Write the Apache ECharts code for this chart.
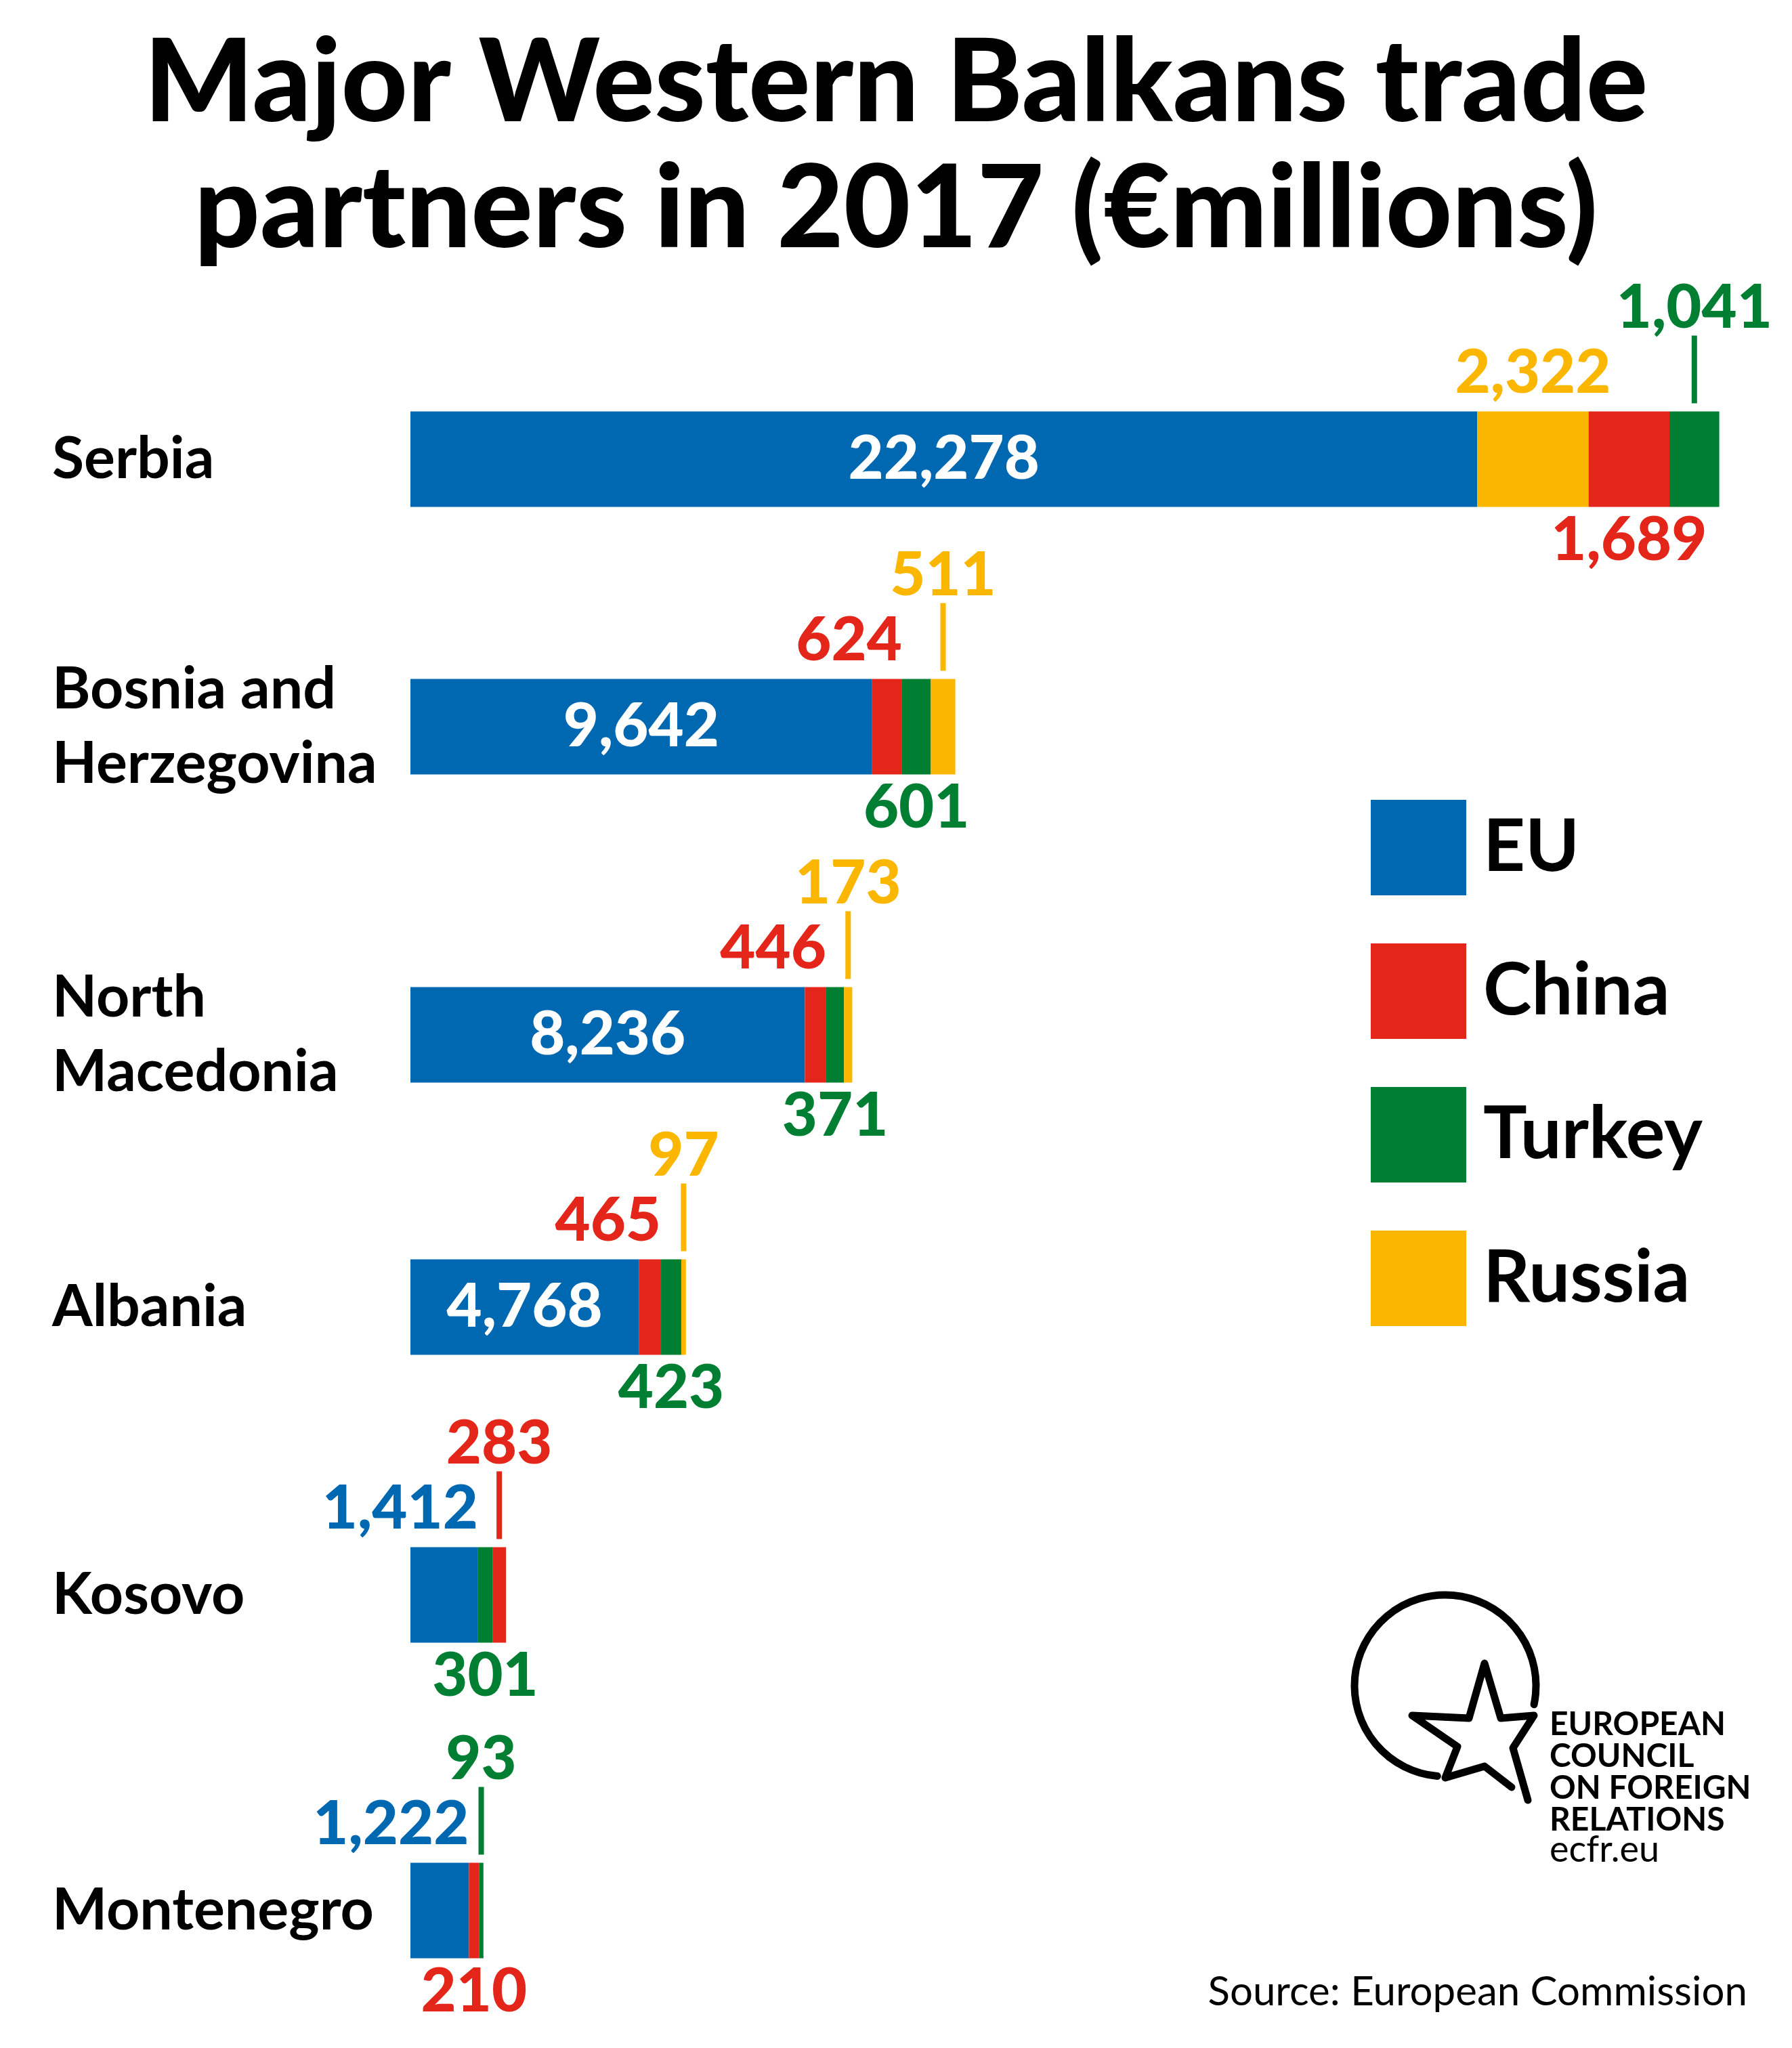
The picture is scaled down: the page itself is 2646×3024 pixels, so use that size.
<!DOCTYPE html>
<html><head><meta charset="utf-8">
<script src="https://cdn.jsdelivr.net/npm/echarts@6/dist/echarts.min.js"></script>
<style>html,body{margin:0;padding:0;background:#fff}#c{width:2646px;height:3024px}</style>
</head><body><div id="c"></div>
<script>
// ---------- data ----------
const countries = ['Serbia', 'Bosnia and\nHerzegovina', 'North\nMacedonia', 'Albania', 'Kosovo', 'Montenegro'];
const partners = ['EU', 'China', 'Turkey', 'Russia'];
const euValues     = [22278, 9642, 8236, 4768, 1412, 1222];
const chinaValues  = [1689, 624, 446, 465, 283, 210];
const turkeyValues = [1041, 601, 371, 423, 301, 93];
const russiaValues = [2322, 511, 173, 97, null, null];
// order of the segments in each bar, left to right
const segmentOrder = [
  ['EU', 'Russia', 'China', 'Turkey'],
  ['EU', 'China', 'Turkey', 'Russia'],
  ['EU', 'China', 'Turkey', 'Russia'],
  ['EU', 'China', 'Turkey', 'Russia'],
  ['EU', 'Turkey', 'China'],
  ['EU', 'China', 'Turkey']
];
// where each value label sits
const labelPlacement = [
  {EU: 'inside', Russia: 'above', China: 'below', Turkey: 'leader'},
  {EU: 'inside', China: 'aboveRight', Turkey: 'below', Russia: 'leader'},
  {EU: 'inside', China: 'aboveRight', Turkey: 'below', Russia: 'leader'},
  {EU: 'inside', China: 'aboveRight', Turkey: 'below', Russia: 'leader'},
  {EU: 'aboveRight', Turkey: 'below', China: 'leader'},
  {EU: 'aboveRight', China: 'below', Turkey: 'leader'}
];

// ---------- layout & style ----------
const rowCenters = [678, 1073, 1528, 1930, 2355, 2821];
const barH = 141;
const colors = {EU: '#0067b1', China: '#e32619', Turkey: '#007f33', Russia: '#fbb600'};
const FONT = 'Lato';
const valuesBy = {EU: euValues, China: chinaValues, Turkey: turkeyValues, Russia: russiaValues};
const fmt = v => Number(v).toLocaleString('en-US');

function labelFor(mode, color) {
  const base = {show: true, fontFamily: FONT, fontWeight: 900, fontSize: 90, lineHeight: 90,
    color: color, formatter: p => fmt(p.value)};
  switch (mode) {
    case 'inside': return Object.assign(base, {position: 'inside', color: '#fff'});
    case 'above': return Object.assign(base, {position: 'top', distance: 12});
    case 'aboveRight': return Object.assign(base, {position: ['100%', -12], align: 'right', verticalAlign: 'bottom'});
    case 'below': return Object.assign(base, {position: 'bottom', distance: 4});
    case 'leader': return Object.assign(base, {position: 'top', distance: 6,
      formatter: p => '{v|' + fmt(p.value) + '}\n{l| }',
      rich: {
        v: {fontFamily: FONT, fontWeight: 900, fontSize: 90, lineHeight: 70, color: color},
        l: {width: 8, height: 100, lineHeight: 112, backgroundColor: color}
      }});
  }
}

const grids = [], xAxes = [], yAxes = [], series = [];
countries.forEach((c, i) => {
  grids.push({left: 606, right: 60, top: rowCenters[i] - barH / 2, height: barH});
  xAxes.push({gridIndex: i, type: 'value', min: 0, max: 28000, show: false});
  yAxes.push({gridIndex: i, type: 'category', data: [c],
    axisLine: {show: false}, axisTick: {show: false}, splitLine: {show: false},
    axisLabel: {align: 'left', margin: 529, fontFamily: FONT, fontWeight: 'bold', fontSize: 86,
      lineHeight: 110, color: '#000'}});
  segmentOrder[i].forEach(p => {
    series.push({type: 'bar', name: p, xAxisIndex: i, yAxisIndex: i, stack: 'row' + i,
      barWidth: barH, data: [valuesBy[p][i]], itemStyle: {color: colors[p]},
      label: labelFor(labelPlacement[i][p], colors[p])});
  });
});

const starPts = [[2232, 2639], [2192, 2608], [2134, 2625], [2152, 2579], [2085, 2533], [2169, 2537],
  [2192, 2456], [2216, 2537], [2265, 2533], [2234, 2581], [2256, 2658]];

const chart = echarts.init(document.getElementById('c'));
chart.setOption({
  animation: false,
  backgroundColor: '#fff',
  title: {text: 'Major Western Balkans trade\npartners in 2017 (€millions)', left: 'center', top: 26,
    textStyle: {fontFamily: FONT, fontWeight: 900, fontSize: 170, lineHeight: 186, color: '#000'}},
  legend: {data: partners, orient: 'vertical', left: 2019, top: 1176, itemWidth: 141, itemHeight: 141,
    itemGap: 71, icon: 'rect', selectedMode: false,
    textStyle: {fontFamily: FONT, fontWeight: 'bold', fontSize: 108, color: '#000', padding: [0, 0, 0, 20]}},
  grid: grids, xAxis: xAxes, yAxis: yAxes, series: series,
  graphic: [
    {type: 'arc', shape: {cx: 2134, cy: 2489, r: 134, startAngle: 95 * Math.PI / 180, endAngle: 372 * Math.PI / 180, clockwise: true},
      style: {stroke: '#000', fill: null, lineWidth: 11, lineCap: 'round'}},
    {type: 'polyline', shape: {points: starPts},
      style: {stroke: '#000', fill: null, lineWidth: 11, lineCap: 'round', lineJoin: 'round'}},
    {type: 'text', x: 2288, y: 2523, style: {text: 'EUROPEAN\nCOUNCIL\nON FOREIGN\nRELATIONS',
      font: 'bold 48px Lato', lineHeight: 47, fill: '#000', textVerticalAlign: 'top'}},
    {type: 'text', x: 2288, y: 2705, style: {text: 'ecfr.eu', font: '54px Lato', lineHeight: 54, fill: '#000', textVerticalAlign: 'top'}},
    {type: 'text', x: 2580, y: 2911, style: {text: 'Source: European Commission', font: '60px Lato', lineHeight: 62,
      fill: '#000', textAlign: 'right', textVerticalAlign: 'top'}}
  ]
});
</script></body></html>
